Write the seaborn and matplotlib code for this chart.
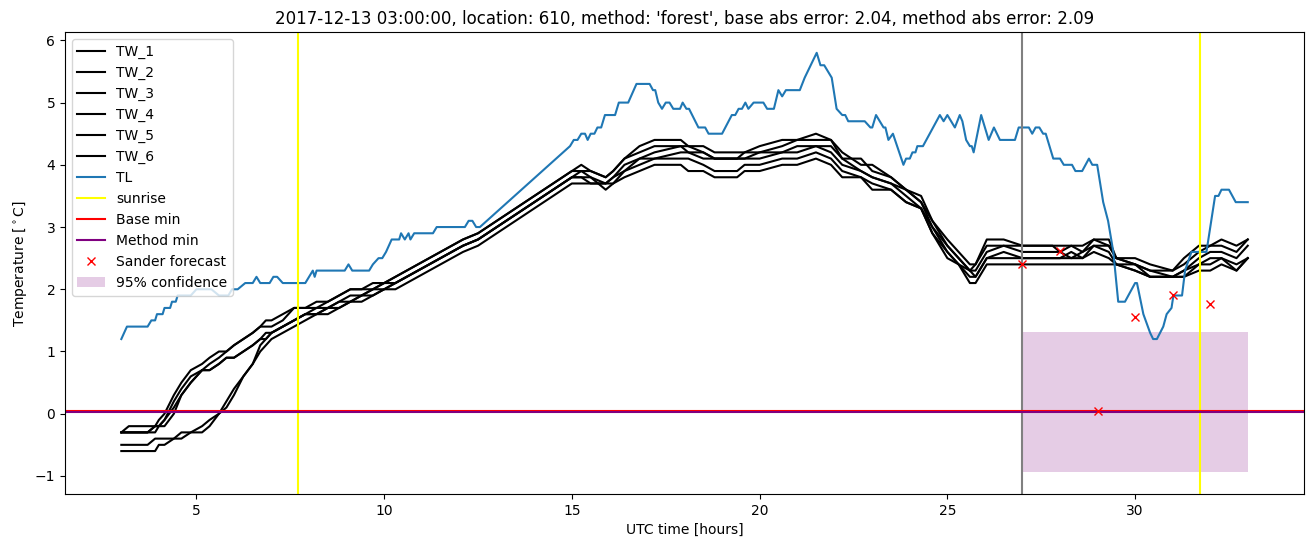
import numpy as np
import pandas as pd
import matplotlib
matplotlib.use("Agg")
import matplotlib.pyplot as plt
import seaborn as sns

# ---------------- data ----------------
tl_time = [3.0, 3.15, 3.7, 3.8, 3.9, 3.95, 4.1, 4.15, 4.3, 4.35, 4.45, 4.5, 4.85, 5.0, 5.4,
           5.6, 5.85, 5.95, 6.1, 6.3, 6.5, 6.6, 6.7, 6.95, 7.05, 7.15, 7.3, 7.9, 8.0, 8.1,
           8.15, 8.2, 8.95, 9.05, 9.15, 9.6, 9.7, 9.85, 9.95, 10.05, 10.2, 10.4, 10.45, 10.55,
           10.65, 10.7, 10.8, 11.3, 11.4, 12.15, 12.25, 12.35, 12.45, 12.55,
           14.95, 15.05, 15.15, 15.25, 15.35, 15.42, 15.5, 15.6, 15.68, 15.78, 15.88, 16.15,
           16.25, 16.5, 16.72, 17.07, 17.16, 17.22, 17.3, 17.4, 17.5, 17.6, 17.7, 17.88, 17.95,
           18.05, 18.12, 18.37, 18.55, 18.64, 19.0, 19.26, 19.35, 19.44, 19.53, 19.62, 19.7,
           19.84, 20.1, 20.2, 20.38, 20.5, 20.6, 20.7, 21.07, 21.2, 21.52, 21.62, 21.72, 21.92,
           22.05, 22.2, 22.28, 22.36, 22.8, 22.95, 23.0, 23.1, 23.3, 23.35, 23.43, 23.55, 23.83,
           23.9, 24.0, 24.07, 24.15, 24.2, 24.35, 24.8, 24.9, 25.0, 25.2, 25.33, 25.4, 25.5,
           25.6, 25.65, 25.7, 25.9, 26.1, 26.24, 26.4, 26.8, 26.9, 27.17, 27.26, 27.35, 27.45,
           27.55, 27.62, 27.82, 28.0, 28.1, 28.32, 28.41, 28.59, 28.77, 28.86, 28.99, 29.15,
           29.28, 29.42, 29.55, 29.73, 30.0, 30.05, 30.22, 30.4, 30.48, 30.58, 30.75, 30.84,
           30.97, 31.02, 31.25, 31.33, 31.5, 31.9, 32.13, 32.22, 32.3, 32.5, 32.68, 33.0]
tl_value = [1.2, 1.4, 1.4, 1.5, 1.5, 1.6, 1.6, 1.7, 1.7, 1.8, 1.8, 1.9, 1.9, 2.0, 2.0,
            1.9, 1.9, 2.0, 2.0, 2.1, 2.1, 2.2, 2.1, 2.1, 2.2, 2.2, 2.1, 2.1, 2.2, 2.3,
            2.2, 2.3, 2.3, 2.4, 2.3, 2.3, 2.4, 2.5, 2.5, 2.6, 2.8, 2.8, 2.9, 2.8,
            2.9, 2.8, 2.9, 2.9, 3.0, 3.0, 3.1, 3.1, 3.0, 3.0,
            4.3, 4.4, 4.4, 4.5, 4.5, 4.4, 4.5, 4.5, 4.6, 4.6, 4.8, 4.8,
            5.0, 5.0, 5.3, 5.3, 5.2, 5.2, 5.0, 4.9, 5.0, 5.0, 4.9, 4.9, 5.0,
            4.9, 4.9, 4.6, 4.6, 4.5, 4.5, 4.8, 4.8, 4.9, 4.9, 5.0, 4.9,
            5.0, 5.0, 4.9, 4.9, 5.2, 5.1, 5.2, 5.2, 5.4, 5.8, 5.6, 5.6, 5.4,
            4.9, 4.8, 4.8, 4.7, 4.7, 4.6, 4.6, 4.8, 4.6, 4.6, 4.4, 4.5, 4.0,
            4.1, 4.1, 4.2, 4.2, 4.3, 4.3, 4.8, 4.7, 4.8, 4.6, 4.8, 4.7, 4.4,
            4.3, 4.3, 4.2, 4.8, 4.4, 4.6, 4.4, 4.4, 4.6, 4.6, 4.5, 4.6, 4.6,
            4.5, 4.5, 4.1, 4.1, 4.0, 4.0, 3.9, 3.9, 4.1, 4.0, 4.0, 3.4,
            3.1, 2.6, 1.8, 1.8, 2.1, 2.1, 1.6, 1.3, 1.2, 1.2, 1.4, 1.6,
            1.7, 1.9, 1.9, 2.3, 2.6, 2.6, 3.5, 3.5, 3.6, 3.6, 3.4, 3.4]

tw_time = [3.0, 3.2, 3.7, 3.9, 4.0, 4.15, 4.4, 4.6, 4.85, 5.15, 5.35, 5.6, 5.8, 6.0, 6.25,
           6.5, 6.7, 6.85, 7.0, 7.3, 7.6, 7.9, 8.2, 8.5, 8.8, 9.1, 9.4, 9.7, 10.0, 10.3,
           10.6, 10.9, 11.2, 11.5, 11.8, 12.1, 12.5, 15.0, 15.25, 15.5, 15.9, 16.1, 16.4,
           16.8, 17.2, 17.9, 18.1, 18.5, 18.8, 19.4, 19.6, 20.0, 20.6, 21.0, 21.5, 21.9,
           22.2, 22.7, 23.0, 23.5, 23.9, 24.3, 24.6, 25.0, 25.3, 25.6, 25.75, 26.05, 26.5,
           27.0, 27.8, 28.0, 28.3, 28.6, 28.9, 29.3, 29.5, 30.0, 30.4, 31.0, 31.3, 31.7,
           32.0, 32.3, 32.7, 33.0]
tw_1 = [-0.3, -0.2, -0.2, -0.2, -0.1, 0.0, 0.3, 0.5, 0.7, 0.8, 0.9, 1.0, 1.0, 1.1, 1.2,
        1.3, 1.4, 1.5, 1.5, 1.6, 1.7, 1.7, 1.8, 1.8, 1.9, 2.0, 2.0, 2.1, 2.1, 2.2,
        2.3, 2.4, 2.5, 2.6, 2.7, 2.8, 2.9, 3.9, 4.0, 3.9, 3.8, 3.9, 4.1,
        4.3, 4.4, 4.4, 4.3, 4.2, 4.1, 4.1, 4.2, 4.3, 4.4, 4.4, 4.5, 4.4,
        4.1, 4.1, 3.9, 3.8, 3.6, 3.5, 3.1, 2.8, 2.6, 2.4, 2.4, 2.8, 2.8,
        2.7, 2.7, 2.7, 2.7, 2.7, 2.8, 2.8, 2.5, 2.5, 2.4, 2.3, 2.5, 2.7,
        2.7, 2.8, 2.7, 2.8]
tw_2 = [-0.3, -0.3, -0.3, -0.2, -0.2, -0.1, 0.2, 0.4, 0.6, 0.7, 0.8, 0.9, 1.0, 1.1, 1.2,
        1.3, 1.4, 1.4, 1.4, 1.5, 1.7, 1.7, 1.7, 1.8, 1.9, 2.0, 2.0, 2.0, 2.1, 2.2,
        2.3, 2.4, 2.5, 2.6, 2.7, 2.8, 2.9, 3.9, 3.9, 3.9, 3.8, 3.9, 4.1,
        4.2, 4.3, 4.3, 4.3, 4.3, 4.2, 4.2, 4.2, 4.2, 4.3, 4.4, 4.4, 4.4,
        4.2, 4.0, 4.0, 3.8, 3.6, 3.4, 3.1, 2.7, 2.5, 2.3, 2.4, 2.7, 2.7,
        2.7, 2.7, 2.6, 2.7, 2.6, 2.8, 2.7, 2.5, 2.4, 2.3, 2.3, 2.4, 2.6,
        2.7, 2.7, 2.6, 2.8]
tw_3 = [-0.3, -0.3, -0.3, -0.2, -0.2, -0.1, 0.1, 0.3, 0.5, 0.7, 0.7, 0.8, 0.9, 0.9, 1.0,
        1.1, 1.2, 1.3, 1.3, 1.4, 1.5, 1.6, 1.7, 1.7, 1.8, 1.9, 1.9, 2.0, 2.1, 2.1,
        2.2, 2.3, 2.4, 2.5, 2.6, 2.7, 2.8, 3.8, 3.9, 3.8, 3.7, 3.8, 4.0,
        4.1, 4.2, 4.3, 4.2, 4.2, 4.1, 4.1, 4.1, 4.2, 4.2, 4.3, 4.3, 4.3,
        4.1, 3.9, 3.8, 3.7, 3.6, 3.4, 3.0, 2.7, 2.5, 2.3, 2.3, 2.6, 2.7,
        2.6, 2.6, 2.6, 2.5, 2.6, 2.7, 2.7, 2.5, 2.4, 2.3, 2.2, 2.3, 2.5,
        2.6, 2.6, 2.5, 2.7]
tw_4 = [-0.3, -0.3, -0.3, -0.3, -0.2, -0.2, 0.0, 0.3, 0.5, 0.7, 0.7, 0.8, 0.9, 0.9, 1.0,
        1.1, 1.2, 1.2, 1.3, 1.4, 1.5, 1.6, 1.6, 1.7, 1.8, 1.8, 1.9, 2.0, 2.0, 2.1,
        2.2, 2.3, 2.4, 2.5, 2.6, 2.7, 2.8, 3.8, 3.8, 3.8, 3.6, 3.7, 3.9,
        4.1, 4.1, 4.2, 4.2, 4.1, 4.1, 4.1, 4.1, 4.1, 4.2, 4.2, 4.3, 4.2,
        4.0, 3.9, 3.8, 3.7, 3.5, 3.3, 3.0, 2.6, 2.4, 2.3, 2.2, 2.5, 2.6,
        2.5, 2.5, 2.5, 2.6, 2.5, 2.7, 2.6, 2.4, 2.4, 2.2, 2.2, 2.3, 2.4,
        2.5, 2.5, 2.4, 2.5]
tw_5 = [-0.5, -0.5, -0.5, -0.4, -0.4, -0.4, -0.4, -0.3, -0.3, -0.2, -0.1, 0.0, 0.2, 0.4, 0.6,
        0.8, 1.1, 1.2, 1.3, 1.4, 1.5, 1.6, 1.6, 1.7, 1.7, 1.8, 1.9, 1.9, 2.0, 2.1,
        2.2, 2.3, 2.4, 2.5, 2.6, 2.7, 2.8, 3.8, 3.8, 3.7, 3.7, 3.8, 3.9,
        4.0, 4.1, 4.1, 4.1, 4.0, 3.9, 3.9, 4.0, 4.0, 4.1, 4.1, 4.2, 4.1,
        3.9, 3.8, 3.7, 3.6, 3.4, 3.3, 2.9, 2.6, 2.4, 2.2, 2.2, 2.5, 2.5,
        2.5, 2.5, 2.5, 2.5, 2.5, 2.6, 2.5, 2.4, 2.3, 2.2, 2.2, 2.2, 2.4,
        2.4, 2.5, 2.3, 2.5]
tw_6 = [-0.6, -0.6, -0.6, -0.6, -0.5, -0.5, -0.4, -0.4, -0.3, -0.3, -0.2, 0.0, 0.1, 0.3, 0.6,
        0.8, 1.0, 1.1, 1.2, 1.3, 1.4, 1.5, 1.6, 1.6, 1.7, 1.8, 1.8, 1.9, 2.0, 2.0,
        2.1, 2.2, 2.3, 2.4, 2.5, 2.6, 2.7, 3.7, 3.7, 3.7, 3.7, 3.7, 3.8,
        3.9, 4.0, 4.0, 3.9, 3.9, 3.8, 3.8, 3.9, 3.9, 4.0, 4.0, 4.1, 4.0,
        3.8, 3.8, 3.6, 3.6, 3.4, 3.3, 2.9, 2.5, 2.4, 2.1, 2.1, 2.4, 2.4,
        2.4, 2.4, 2.4, 2.4, 2.4, 2.4, 2.4, 2.4, 2.3, 2.2, 2.2, 2.2, 2.3,
        2.3, 2.4, 2.3, 2.5]
tw_names = ["TW_1", "TW_2", "TW_3", "TW_4", "TW_5", "TW_6"]

sunrise_times = [7.7, 31.72]
forecast_start = 27.0
base_min = 0.05
method_min = 0.02
sander_time = [27.0, 28.0, 29.0, 30.0, 31.0, 32.0]
sander_value = [2.4, 2.62, 0.05, 1.56, 1.9, 1.77]
conf_time = [27.0, 33.0]
conf_low = [-0.93, -0.93]
conf_high = [1.31, 1.31]

title = ("2017-12-13 03:00:00, location: 610, method: 'forest', "
         "base abs error: 2.04, method abs error: 2.09")

# ---------------- plot ----------------
fig, ax = plt.subplots(figsize=(13.13, 5.47), dpi=100)
fig.subplots_adjust(left=0.0495, right=0.9932, top=0.9410, bottom=0.0969)

for name, vals in zip(tw_names, [tw_1, tw_2, tw_3, tw_4, tw_5, tw_6]):
    sns.lineplot(x=tw_time, y=vals, color="black", label=name, ax=ax, linewidth=1.5)

sns.lineplot(x=tl_time, y=tl_value, color="#1f77b4", label="TL", ax=ax, linewidth=1.5)

ax.axvline(sunrise_times[0], color="yellow", label="sunrise")
ax.axvline(sunrise_times[1], color="yellow")
ax.axvline(forecast_start, color="gray")
ax.axhline(base_min, color="red", label="Base min", linewidth=1.5)
ax.axhline(method_min, color="purple", label="Method min", linewidth=1.5)
ax.plot(sander_time, sander_value, "x", color="red", label="Sander forecast")
ax.fill_between(conf_time, conf_low, conf_high, color="purple", alpha=0.2,
                linewidth=0, label="95% confidence")

ax.set_xlim(1.5, 34.5)
ax.set_ylim(-1.29, 6.13)
ax.set_xlabel("UTC time [hours]")
ax.set_ylabel(r"Temperature [$^\circ$C]")
ax.set_title(title)
ax.legend(loc="upper left")

fig.savefig("out.png", dpi=100)
